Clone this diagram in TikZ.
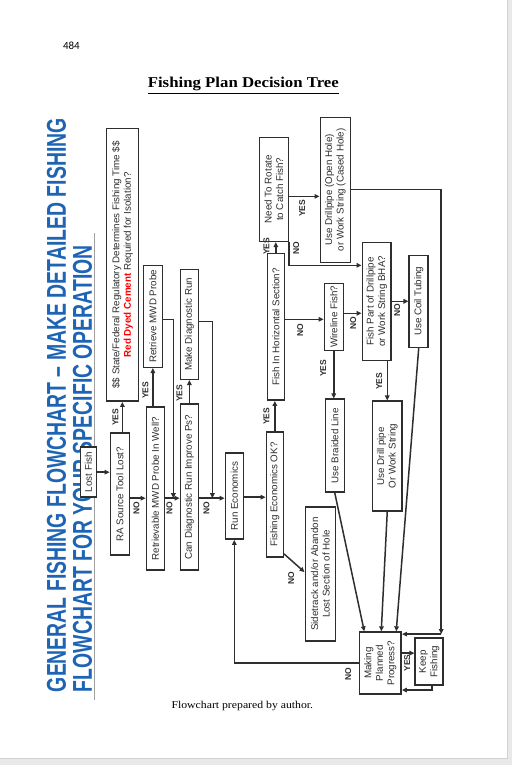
\documentclass[tikz,border=0pt]{standalone}
\usepackage{fontspec}
\setmainfont{Liberation Serif}
\newfontfamily\arialf{Liberation Sans}
\newfontfamily\calibrif{Carlito}
\usetikzlibrary{arrows.meta,calc}
\definecolor{ink}{HTML}{2E2E2E}
\definecolor{titleblue}{HTML}{1E64B4}
\definecolor{pagegray}{HTML}{E9E9E9}
\definecolor{rulegray}{HTML}{A0A0A0}
\begin{document}
\begin{tikzpicture}[x=1pt,y=-1pt,
 box/.style={draw=ink, line width=1.5pt, rotate=90, inner sep=0pt, align=center,
   font=\arialf\fontsize{9.8}{11.5}\selectfont, text=ink},
 lbl/.style={rotate=90, font=\arialf\bfseries\fontsize{8.5}{9}\selectfont, text=ink, inner sep=0pt},
 arr/.style={draw=ink, line width=1.5pt, -{Triangle[length=5pt,width=4.5pt]}},
 ln/.style={draw=ink, line width=1.5pt},
]
% page
\fill[pagegray] (0,0) rectangle (512,765);
\fill[white] (0,0) rectangle (507,758);
\draw[line width=1pt, color=black!18] (507.5,0) -- (507.5,758.5) -- (0,758.5);
\useasboundingbox (0,0) rectangle (512,765);

% header texts
\node[font=\calibrif\fontsize{11}{12}\selectfont, anchor=center] (pg) at (71,45) {484};
\node[font=\bfseries\fontsize{15}{17}\selectfont, inner sep=0pt] (ttl) at (243,85) {\scalebox{1.12}[1]{\underline{Fishing Plan Decision Tree}}};
\node[font=\fontsize{10.5}{12}\selectfont, inner sep=0pt] (cap) at (242,706) {\scalebox{1.12}[1]{Flowchart prepared by author.}};

% big rotated title
\node[rotate=90, inner sep=0pt, text=titleblue, font=\arialf\bfseries] (big1) at (56,405)
  {\resizebox{574pt}{19pt}{GENERAL FISHING FLOWCHART – MAKE DETAILED FISHING}};
\node[rotate=90, inner sep=0pt, text=titleblue, font=\arialf\bfseries] (big2) at (82,468.5)
  {\resizebox{447pt}{19pt}{FLOWCHART FOR YOUR SPECIFIC OPERATION}};
\draw[rulegray, line width=0.8pt] (94,233) coordinate (r1) -- (94,700) coordinate (r2);

% boxes
\node[box, minimum width=50pt, minimum height=16pt, fill=white] (lost) at (88,472) {Lost Fish};
\node[box, minimum width=122pt, minimum height=19pt] (ra) at (119.5,494) {RA Source Tool Lost?};
\node[box, minimum width=273pt, minimum height=32pt] (state) at (122,264.5)
  {\$\$ State/Federal Regulatory Determines Fishing Time \$\$\\{\color{red}\bfseries Red Dyed Cement} Required for Isolation?};
\node[box, minimum width=102pt, minimum height=19pt] (retrieve) at (152.5,316) {Retrieve MWD Probe};
\node[box, minimum width=163pt, minimum height=18pt] (retrievable) at (155,488.5) {Retrievable MWD Probe In Well?};
\node[box, minimum width=110pt, minimum height=18pt] (diag) at (189,324) {Make Diagnostic Run};
\node[box, minimum width=166pt, minimum height=18pt] (candiag) at (189,487) {Can Diagnostic Run Improve Ps?};
\node[box, minimum width=86pt, minimum height=18pt] (runecon) at (234,496) {Run Economics};
\node[box, minimum width=125pt, minimum height=17pt] (fishecon) at (274.5,494.5) {Fishing Economics OK?};
\node[box, minimum width=147pt, minimum height=17pt] (horiz) at (275.5,326.5) {Fish In Horizontal Section?};
\node[box, minimum width=104pt, minimum height=29pt] (rotate) at (273.5,189) {Need To Rotate\\to Catch Fish?};
\node[box, minimum width=145pt, minimum height=30pt] (drillpipe) at (335,189.5) {Use Drillpipe (Open Hole)\\or Work String (Cased Hole)};
\node[box, minimum width=67pt, minimum height=19pt] (wireline) at (333.5,316.5) {Wireline Fish?};
\node[box, minimum width=93pt, minimum height=19pt] (braided) at (334.5,445.5) {Use Braided Line};
\node[box, minimum width=134pt, minimum height=30pt] (sidetrack) at (320,574) {Sidetrack and/or Abandon\\Lost Section of Hole};
\node[box, minimum width=118pt, minimum height=29pt] (fishpart) at (376.5,301) {Fish Part of Drillpipe\\or Work String BHA?};
\node[box, minimum width=92pt, minimum height=19pt] (coil) at (418.5,301) {Use Coil Tubing};
\node[box, minimum width=110pt, minimum height=30pt] (drillstring) at (387,456) {Use Drill pipe\\Or Work String};
\node[box, minimum width=62pt, minimum height=42pt] (making) at (380,663) {Making\\Planned\\Progress?};
\node[box, minimum width=47pt, minimum height=28pt] (keep) at (429,661.5) {Keep\\Fishing};

% junction coordinates
\coordinate (j1) at (173,498);
\coordinate (j2) at (212,498);
\coordinate (c1) at (441,634);

% connectors
\draw[arr] (lost.south) -- (lost.south -| ra.north);
\draw[arr] (state.west |- ra.east) -- (state.west);
\node[lbl] (y1) at (115,417) {YES};
\draw[arr] (ra.south |- j1) -- (retrievable.north |- j1);
\node[lbl] (n1) at (136,508) {NO};
\draw[arr] (retrieve.west |- retrievable.east) -- (retrieve.west);
\node[lbl] (y2) at (145,390) {YES};
\draw[arr] (retrieve.south |- 0,319) -| (j1);
\draw[arr] (retrievable.south |- j1) -- (candiag.north |- j1);
\node[lbl] (n2) at (169,508) {NO};
\draw[arr] (diag.west |- candiag.east) -- (diag.west);
\node[lbl] (y3) at (179,393) {YES};
\draw[arr] (diag.south |- 0,321) -| (j2);
\draw[arr] (candiag.south |- j2) -- (runecon.north |- j2);
\node[lbl] (n3) at (206,508) {NO};
\draw[arr] (runecon.south |- 0,497) -- (fishecon.north |- 0,497);
\draw[arr] (fishecon.east) -- (fishecon.east |- horiz.west);
\node[lbl] (y4) at (266,416) {YES};
\draw[arr] ($(fishecon.south west)+(0,-4)$) -- (sidetrack.north |- 0,572);
\node[lbl] (n4) at (291,578) {NO};
\draw[arr] (horiz.east) -- (horiz.east |- rotate.west);
\node[lbl] (y5) at (266,246) {YES};
\draw[arr] (rotate.south |- 0,196) -- (drillpipe.north |- 0,196);
\node[lbl] (y6) at (302,208) {YES};
\draw[arr] (rotate.south west) |- (fishpart.north |- 0,265);
\node[lbl] (n5) at (296,248) {NO};
\draw[arr] (horiz.south |- 0,319) -- (wireline.north |- 0,319);
\node[lbl] (n6) at (300,330) {NO};
\draw[arr] (wireline.south |- 0,313) -- (fishpart.north |- 0,313);
\node[lbl] (n7) at (353,323) {NO};
\draw[arr] (wireline.west) -- (wireline.west |- braided.east);
\node[lbl] (y7) at (323,368) {YES};
\draw[arr] (drillpipe.south |- 0,189) -| (c1);
\draw[arr] (c1) -- (making.south |- c1);
\draw[arr] (fishpart.south |- 0,301) -- (coil.north |- 0,301);
\node[lbl] (n8) at (397,310) {NO};
\draw[arr] (drillstring.east |- fishpart.west) -- (drillstring.east);
\node[lbl] (y8) at (379,381) {YES};
\draw[arr] (coil.west) -- (making.east -| 396,0);
\draw[arr] (drillstring.west) -- (making.east -| 381,0);
\draw[arr] (braided.west) -- (making.east -| 364,0);
\draw[arr] (making.south |- 0,653) -- (keep.north |- 0,653);
\node[lbl] (y9) at (407,663) {YES};
\draw[arr] (keep.west -| 432,0) |- (making.south |- 0,690);
\draw[arr] (making.north) -| (runecon.west);
\node[lbl] (n9) at (348,674) {NO};
\end{tikzpicture}
\end{document}
